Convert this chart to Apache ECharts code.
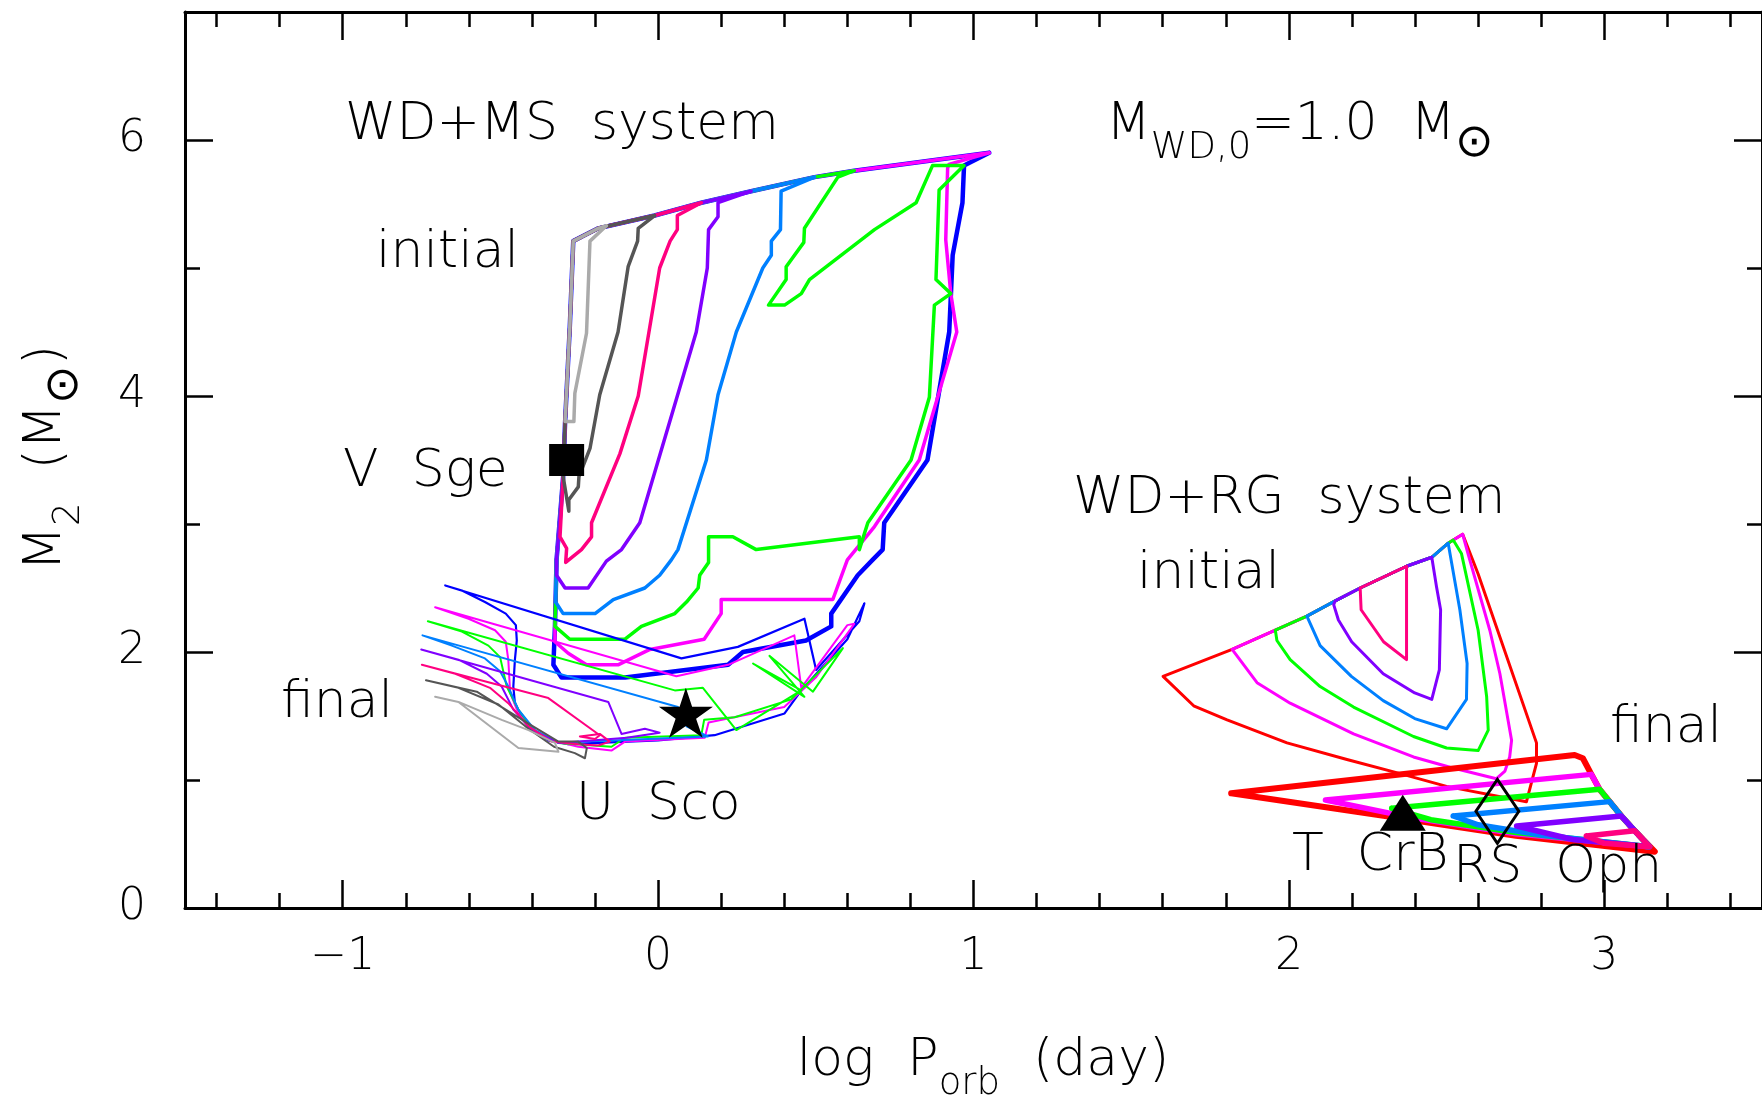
<!DOCTYPE html>
<html>
<head>
<meta charset="utf-8">
<title>WD+MS / WD+RG regions</title>
<script src="https://cdn.jsdelivr.net/npm/echarts@6/dist/echarts.min.js"></script>
<style>
  html, body { margin: 0; padding: 0; background: #fff; }
  #chart { width: 1762px; height: 1099px; }
</style>
</head>
<body>
<div id="chart"></div>
<script>
// axis ranges
const xRange = [-1.5, 3.5];
const yRange = [0, 7];

// ---- WD+MS system, initial region: shared left and upper edges
const msLeftEdge = [[-0.332,1.90],[-0.327,2.20],[-0.322,2.72],[-0.316,2.90],[-0.301,3.37],[-0.295,3.79],[-0.280,4.54],[-0.269,5.21]];
const msTopEdge = [[-0.269,5.21],[-0.190,5.31],[-0.011,5.41],[0.137,5.51],[0.295,5.60],[0.496,5.71],[0.622,5.76],[1.050,5.90]];

// own part of each initial contour: from its point on the upper edge down to the left edge
const msInitBlue = [[1.050,5.90],[0.970,5.80],[0.965,5.51],[0.934,5.10],[0.923,4.50],[0.854,3.50],[0.717,3.01],[0.712,2.80],[0.680,2.72],[0.633,2.60],[0.549,2.30],[0.549,2.20],[0.469,2.09],[0.269,2.00],[0.222,1.90],[-0.105,1.80],[-0.306,1.80],[-0.332,1.90]];
const msInitMagenta = [[1.050,5.90],[0.922,5.81],[0.918,5.78],[0.912,5.22],[0.928,4.80],[0.947,4.50],[0.828,3.50],[0.686,2.98],[0.600,2.72],[0.554,2.41],[0.200,2.41],[0.200,2.30],[0.146,2.10],[-0.026,2.02],[-0.127,1.90],[-0.227,1.90],[-0.285,1.99],[-0.327,2.08]];
const msInitGreen = [[0.622,5.76],[0.570,5.71],[0.464,5.31],[0.462,5.20],[0.406,5.01],[0.406,4.91],[0.350,4.71],[0.401,4.71],[0.454,4.80],[0.480,4.91],[0.686,5.30],[0.818,5.51],[0.870,5.80],[0.970,5.80],[0.891,5.61],[0.881,4.91],[0.928,4.80],[0.876,4.71],[0.860,3.99],[0.802,3.50],[0.665,3.01],[0.638,2.80],[0.638,2.90],[0.311,2.80],[0.237,2.90],[0.160,2.90],[0.160,2.70],[0.132,2.60],[0.127,2.50],[0.090,2.39],[0.053,2.30],[-0.053,2.20],[-0.105,2.10],[-0.280,2.10],[-0.327,2.20]];
const msInitAzure = [[0.496,5.71],[0.390,5.60],[0.388,5.30],[0.359,5.21],[0.359,5.10],[0.332,5.00],[0.248,4.50],[0.190,4.01],[0.153,3.50],[0.063,2.80],[0.042,2.72],[0.005,2.60],[-0.042,2.50],[-0.142,2.41],[-0.200,2.30],[-0.301,2.30],[-0.325,2.39]];
const msInitPurple = [[0.295,5.60],[0.190,5.51],[0.190,5.40],[0.160,5.30],[0.156,5.00],[0.121,4.50],[-0.058,3.01],[-0.116,2.80],[-0.164,2.71],[-0.222,2.50],[-0.295,2.50],[-0.322,2.60]];
const msInitPink = [[0.137,5.51],[0.061,5.41],[0.061,5.30],[0.038,5.21],[0.005,5.00],[-0.063,4.00],[-0.121,3.55],[-0.211,3.01],[-0.211,2.90],[-0.243,2.80],[-0.293,2.70],[-0.290,2.81],[-0.311,2.90]];
const msInitDarkGray = [[-0.011,5.41],[-0.063,5.31],[-0.065,5.21],[-0.095,5.01],[-0.127,4.50],[-0.185,4.01],[-0.216,3.59],[-0.232,3.49],[-0.251,3.37],[-0.253,3.29],[-0.283,3.19],[-0.283,3.10]];
const msInitLightGray = [[-0.164,5.33],[-0.216,5.21],[-0.227,4.49],[-0.264,4.02],[-0.267,3.80],[-0.295,3.80]];

// ---- WD+MS system, final states (thin loops)
const msFinalBlue = [[-0.675,2.52],[-0.622,2.48],[-0.549,2.39],[-0.483,2.30],[-0.451,2.21],[-0.448,2.09],[-0.454,1.94],[-0.459,1.73],[-0.454,1.60],[-0.432,1.49],[-0.401,1.39],[-0.348,1.31],[-0.285,1.28],[0.000,1.31],[0.179,1.35],[0.401,1.52],[0.454,1.70],[0.600,2.10],[0.654,2.38],[0.638,2.24],[0.501,1.86],[0.464,2.26],[0.253,2.04],[0.074,1.95],[-0.675,2.52]];
const msFinalMagenta = [[-0.707,2.35],[-0.601,2.26],[-0.517,2.17],[-0.483,2.08],[-0.475,1.94],[-0.469,1.68],[-0.443,1.52],[-0.401,1.40],[-0.338,1.31],[-0.253,1.26],[-0.148,1.23],[-0.105,1.30],[0.148,1.33],[0.160,1.45],[0.400,1.57],[0.500,1.80],[0.622,2.22],[0.600,2.21],[0.454,1.72],[0.432,2.13],[0.222,1.90],[0.058,1.81],[-0.707,2.35]];
const msFinalGreen = [[-0.730,2.24],[-0.622,2.16],[-0.538,2.05],[-0.501,1.96],[-0.480,1.73],[-0.443,1.55],[-0.396,1.39],[-0.316,1.29],[-0.148,1.26],[-0.105,1.33],[0.137,1.35],[0.146,1.47],[0.243,1.49],[0.422,1.63],[0.586,2.03],[0.491,1.69],[0.353,1.97],[0.464,1.65],[0.301,1.91],[0.454,1.70],[0.248,1.39],[0.142,1.72],[0.053,1.70],[-0.730,2.24]];
const msFinalAzure = [[-0.747,2.13],[-0.654,2.05],[-0.549,1.95],[-0.501,1.85],[-0.475,1.73],[-0.443,1.55],[-0.390,1.39],[-0.316,1.29],[-0.232,1.30],[-0.127,1.31],[0.158,1.34],[0.090,1.42],[0.063,1.57],[-0.747,2.13]];
const msFinalPurple = [[-0.751,2.02],[-0.633,1.94],[-0.543,1.83],[-0.496,1.73],[-0.459,1.55],[-0.401,1.39],[-0.316,1.29],[-0.200,1.31],[-0.100,1.33],[0.005,1.37],[-0.042,1.40],[-0.116,1.36],[-0.158,1.61],[-0.751,2.02]];
const msFinalPink = [[-0.749,1.90],[-0.643,1.83],[-0.533,1.72],[-0.475,1.60],[-0.411,1.42],[-0.338,1.30],[-0.253,1.28],[-0.190,1.27],[-0.153,1.30],[-0.185,1.36],[-0.248,1.34],[-0.200,1.32],[-0.185,1.35],[-0.348,1.64],[-0.749,1.90]];
const msFinalDarkGray = [[-0.736,1.78],[-0.575,1.69],[-0.496,1.57],[-0.411,1.44],[-0.316,1.30],[-0.253,1.30],[-0.226,1.25],[-0.232,1.17],[-0.264,1.21],[-0.330,1.26],[-0.411,1.40],[-0.506,1.59],[-0.633,1.72],[-0.736,1.78]];
const msFinalLightGray = [[-0.707,1.65],[-0.633,1.61],[-0.443,1.25],[-0.316,1.22],[-0.327,1.29],[-0.411,1.39],[-0.496,1.47],[-0.633,1.61]];

// ---- WD+RG system, initial region: shared upper edge
const rgTopEdge = [[1.820,2.02],[1.957,2.17],[2.057,2.28],[2.147,2.40],[2.226,2.50],[2.373,2.67],[2.453,2.74],[2.505,2.85],[2.521,2.875],[2.551,2.92]];
const rgInitRed = [[1.820,2.02],[1.601,1.81],[1.698,1.58],[1.804,1.47],[1.994,1.29],[2.184,1.16],[2.353,1.05],[2.500,0.95],[2.753,0.83],[2.785,1.13],[2.785,1.29],[2.600,2.61],[2.551,2.92]];
const rgInitMagenta = [[1.820,2.02],[1.899,1.76],[2.004,1.60],[2.205,1.36],[2.395,1.18],[2.511,1.10],[2.658,1.01],[2.685,1.07],[2.700,1.18],[2.706,1.31],[2.669,1.83],[2.637,2.17],[2.570,2.75],[2.551,2.92]];
const rgInitGreen = [[1.957,2.17],[1.962,2.09],[2.004,1.94],[2.099,1.73],[2.205,1.57],[2.395,1.34],[2.500,1.25],[2.600,1.23],[2.632,1.39],[2.627,1.65],[2.600,2.17],[2.547,2.77],[2.521,2.875]];
const rgInitAzure = [[2.057,2.28],[2.068,2.22],[2.099,2.05],[2.198,1.81],[2.299,1.62],[2.399,1.48],[2.500,1.40],[2.563,1.63],[2.565,1.91],[2.542,2.33],[2.505,2.85]];
const rgInitPurple = [[2.147,2.40],[2.142,2.37],[2.157,2.25],[2.199,2.08],[2.299,1.83],[2.399,1.68],[2.453,1.63],[2.477,1.86],[2.481,2.33],[2.468,2.51],[2.453,2.74]];
const rgInitPink = [[2.226,2.50],[2.229,2.33],[2.300,2.08],[2.373,1.94],[2.373,2.64],[2.373,2.67]];

// ---- WD+RG system, final states (thick wedges)
const rgFinalRed = [[1.817,0.896],[2.906,1.195],[2.932,1.170],[2.959,1.044],[2.985,0.927],[3.017,0.831],[3.054,0.719],[3.096,0.604],[3.160,0.440],[2.720,0.565],[2.300,0.720],[1.817,0.896]];
const rgFinalMagenta = [[2.116,0.844],[2.959,1.044],[2.985,0.927],[3.017,0.831],[3.054,0.719],[3.096,0.604],[3.143,0.479],[2.720,0.580],[2.400,0.700],[2.116,0.844]];
const rgFinalGreen = [[2.326,0.779],[2.985,0.927],[3.017,0.831],[3.054,0.719],[3.096,0.604],[3.143,0.479],[2.720,0.590],[2.450,0.690],[2.326,0.779]];
const rgFinalAzure = [[2.521,0.719],[3.017,0.831],[3.054,0.719],[3.096,0.604],[3.143,0.479],[2.800,0.570],[2.600,0.650],[2.521,0.719]];
const rgFinalPurple = [[2.722,0.641],[3.054,0.719],[3.096,0.604],[3.143,0.479],[2.900,0.535],[2.722,0.641]];
const rgFinalPink = [[2.943,0.5625],[3.096,0.604],[3.143,0.479],[3.000,0.505],[2.943,0.5625]];

// observed systems
const vSge = [-0.290, 3.50];
const uSco = [0.088, 1.525];
const tCrB = [2.361, 0.745];
const rsOph = [2.661, 0.755];

const COL = {
  blue: '#0000ff', magenta: '#ff00ff', green: '#00ff00', azure: '#0080ff',
  purple: '#8000ff', pink: '#ff0080', dgray: '#555555', lgray: '#aaaaaa', red: '#ff0000'
};
const FONT = '"DejaVu Sans", sans-serif';
const WEIGHT = 200;

// close an initial WD+MS contour using the shared edges
function msLoop(own) {
  const s = own[0], e = own[own.length - 1];
  const up = msLeftEdge.filter(p => p[1] > e[1]);
  const top = msTopEdge.filter(p => p[0] > msTopEdge[0][0] && p[0] < s[0]);
  return own.concat(up, top, [s]);
}
// close an initial WD+RG contour along the shared upper edge
function rgLoop(own) {
  const s = own[0], e = own[own.length - 1];
  const back = rgTopEdge.filter(p => p[0] > s[0] && p[0] < e[0]).reverse();
  return own.concat(back, [s]);
}

function line(data, color, width) {
  return {
    type: 'line', data: data, showSymbol: false, symbol: 'none',
    lineStyle: { color: color, width: width, opacity: 1, cap: 'round', join: 'round' },
    silent: true, animation: false
  };
}

function marker(point, symbol, size, style) {
  return {
    type: 'scatter', data: [point], symbol: symbol, symbolSize: size,
    itemStyle: Object.assign({ color: '#000', opacity: 1 }, style || {}),
    z: 5, silent: true, animation: false
  };
}

const series = [
  line(msLoop(msInitBlue), COL.blue, 4.5),
  line(msLoop(msInitMagenta), COL.magenta, 3.5),
  line(msLoop(msInitGreen), COL.green, 3.5),
  line(msLoop(msInitAzure), COL.azure, 3.5),
  line(msLoop(msInitPurple), COL.purple, 3.5),
  line(msLoop(msInitPink), COL.pink, 3.5),
  line(msLoop(msInitDarkGray), COL.dgray, 3.5),
  line(msLoop(msInitLightGray), COL.lgray, 3.5),

  line(msFinalBlue, COL.blue, 2.2),
  line(msFinalMagenta, COL.magenta, 2),
  line(msFinalGreen, COL.green, 2),
  line(msFinalAzure, COL.azure, 2),
  line(msFinalPurple, COL.purple, 2),
  line(msFinalPink, COL.pink, 2),
  line(msFinalDarkGray, COL.dgray, 2),
  line(msFinalLightGray, COL.lgray, 2),

  line(rgLoop(rgInitRed), COL.red, 3),
  line(rgLoop(rgInitMagenta), COL.magenta, 3),
  line(rgLoop(rgInitGreen), COL.green, 3),
  line(rgLoop(rgInitAzure), COL.azure, 3),
  line(rgLoop(rgInitPurple), COL.purple, 3),
  line(rgLoop(rgInitPink), COL.pink, 3),

  line(rgFinalRed, COL.red, 6),
  line(rgFinalMagenta, COL.magenta, 5.5),
  line(rgFinalGreen, COL.green, 5.5),
  line(rgFinalAzure, COL.azure, 5.5),
  line(rgFinalPurple, COL.purple, 5.5),
  line(rgFinalPink, COL.pink, 5.5),

  marker(vSge, 'rect', [35, 32]),
  marker(uSco, 'path://M0,-100 L22,-31 L95,-31 L36,12 L59,81 L0,38 L-59,81 L-36,12 L-95,-31 L-22,-31 Z', [54, 50]),
  marker(tCrB, 'triangle', [46, 36]),
  marker(rsOph, 'diamond', [43, 64], { color: 'rgba(255,255,255,0)', borderColor: '#000', borderWidth: 3 })
];

function axisBase(pos, showLabel, isX) {
  return {
    type: 'value', position: pos,
    min: isX ? xRange[0] : yRange[0],
    max: isX ? xRange[1] : yRange[1],
    splitNumber: isX ? 5 : undefined,
    interval: isX ? undefined : 2,
    axisLine: { show: true, onZero: false, lineStyle: { color: '#000', width: 3 } },
    axisTick: { show: true, inside: true, length: 28, lineStyle: { color: '#000', width: 2.5 } },
    minorTick: { show: true, splitNumber: isX ? 5 : 2, length: 15, lineStyle: { color: '#000', width: 2.5 } },
    splitLine: { show: false },
    minorSplitLine: { show: false },
    axisLabel: {
      show: showLabel, color: '#000', fontSize: 44, fontFamily: FONT, fontWeight: WEIGHT,
      margin: isX ? 28 : 39, showMinLabel: isX ? false : true, showMaxLabel: false,
      formatter: v => (v < 0 ? '\u2212' + Math.abs(v) : String(v))
    }
  };
}

function txt(x, y, text) {
  return {
    type: 'text', x: x, y: y, z: 20, silent: true,
    style: { text: text, fill: '#000', font: WEIGHT + ' 52px ' + FONT, textAlign: 'left', textVerticalAlign: 'middle' }
  };
}

const richParts = {
  n: { fontSize: 52, fontFamily: FONT, fontWeight: WEIGHT, lineHeight: 84 },
  s: { fontSize: 37, fontFamily: FONT, fontWeight: WEIGHT, lineHeight: 38, verticalAlign: 'bottom' },
  o: { fontSize: 46, fontFamily: FONT, fontWeight: WEIGHT, lineHeight: 40, verticalAlign: 'bottom' }
};

function richTxt(x, y, text, align, rotation) {
  return {
    type: 'text', x: x, y: y, rotation: rotation || 0, z: 20, silent: true,
    style: { text: text, fill: '#000', textAlign: align, textVerticalAlign: 'middle', rich: richParts }
  };
}

const chart = echarts.init(document.getElementById('chart'));
chart.setOption({
  backgroundColor: '#fff',
  animation: false,
  grid: { left: 185, top: 12, width: 1580, height: 896 },
  xAxis: [axisBase('bottom', true, true), axisBase('top', false, true)],
  yAxis: [axisBase('left', true, false), axisBase('right', false, false)],
  series: series,
  graphic: [
    txt(345, 125, 'WD+MS  system'),
    richTxt(1106, 125, '{n|M}{s|WD,0}{n|=1.0  M}{o|\u2299}', 'left'),
    txt(376, 253, 'initial'),
    txt(343, 472, 'V  Sge'),
    txt(281, 703, 'final'),
    txt(576, 805, 'U  Sco'),
    txt(1073, 499, 'WD+RG  system'),
    txt(1137, 574, 'initial'),
    txt(1610, 728, 'final'),
    txt(1292, 856, 'T  CrB'),
    txt(1453, 868, 'RS  Oph'),
    richTxt(983, 1061, '{n|log  P}{s|orb}{n|  (day)}', 'center'),
    richTxt(46, 458, '{n|M}{s|2}{n|  (M}{o|\u2299}{n|)}', 'center', Math.PI / 2)
  ]
});
</script>
</body>
</html>
